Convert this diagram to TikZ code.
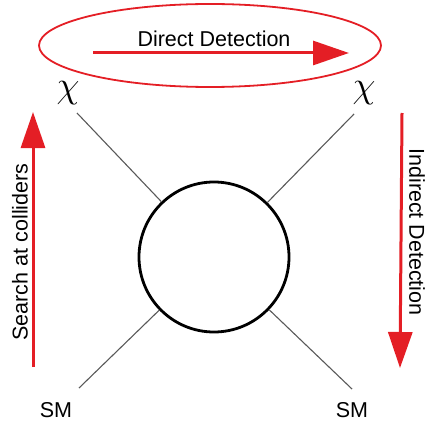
\documentclass[tikz,border=0pt]{standalone}
\usepackage{fontspec}
\setmainfont{Liberation Sans}
\usetikzlibrary{arrows.meta,shapes.geometric}
\definecolor{myred}{RGB}{228,30,37}
\begin{document}
\begin{tikzpicture}[x=1pt,y=-1pt,
  lbl/.style={font=\fontsize{21.5}{24}\selectfont, inner sep=0pt},
  chi/.style={font=\fontsize{24.88}{28}\selectfont, inner sep=0pt, scale=1.5},
  leg/.style={draw=black!65, line width=1.1pt},
  redarrow/.style={draw=myred, line width=3pt, -{Triangle[length=36pt,width=24pt]}}]
\useasboundingbox (0,0) rectangle (438,422);
\node[draw=myred, line width=1.8pt, ellipse, minimum width=342pt, minimum height=83pt, inner sep=0pt] (ell) at (210,45.5) {};
\node[lbl] (dd) at (214,39) {Direct Detection};
\coordinate (ddA) at (93,53);
\coordinate (ddB) at (349,53);
\draw[redarrow] (ddA) -- (ddB);
\node[chi] (chiL) at (68,93) {$\chi$};
\node[chi] (chiR) at (364,93) {$\chi$};
\node[lbl] (smL) at (56,410) {SM};
\node[lbl] (smR) at (352,410) {SM};
\node[draw=black, line width=2.8pt, circle, minimum size=150pt, inner sep=0pt] (blob) at (214,257) {};
\coordinate (tl) at (77,113);
\coordinate (tr) at (354,114);
\coordinate (bl) at (79,388);
\coordinate (br) at (352,389);
\draw[leg] (tl) -- (blob);
\draw[leg] (tr) -- (blob);
\draw[leg] (bl) -- (blob);
\draw[leg] (br) -- (blob);
\coordinate (scA) at (33,367);
\coordinate (scB) at (33,112);
\draw[redarrow] (scA) -- (scB);
\node[lbl, rotate=90] (sc) at (20,252) {Search at colliders};
\coordinate (idA) at (402,113);
\coordinate (idB) at (400,368);
\draw[redarrow] (idA) -- (idB);
\node[lbl, rotate=-90] (id) at (417,232) {Indirect Detection};
\end{tikzpicture}
\end{document}
